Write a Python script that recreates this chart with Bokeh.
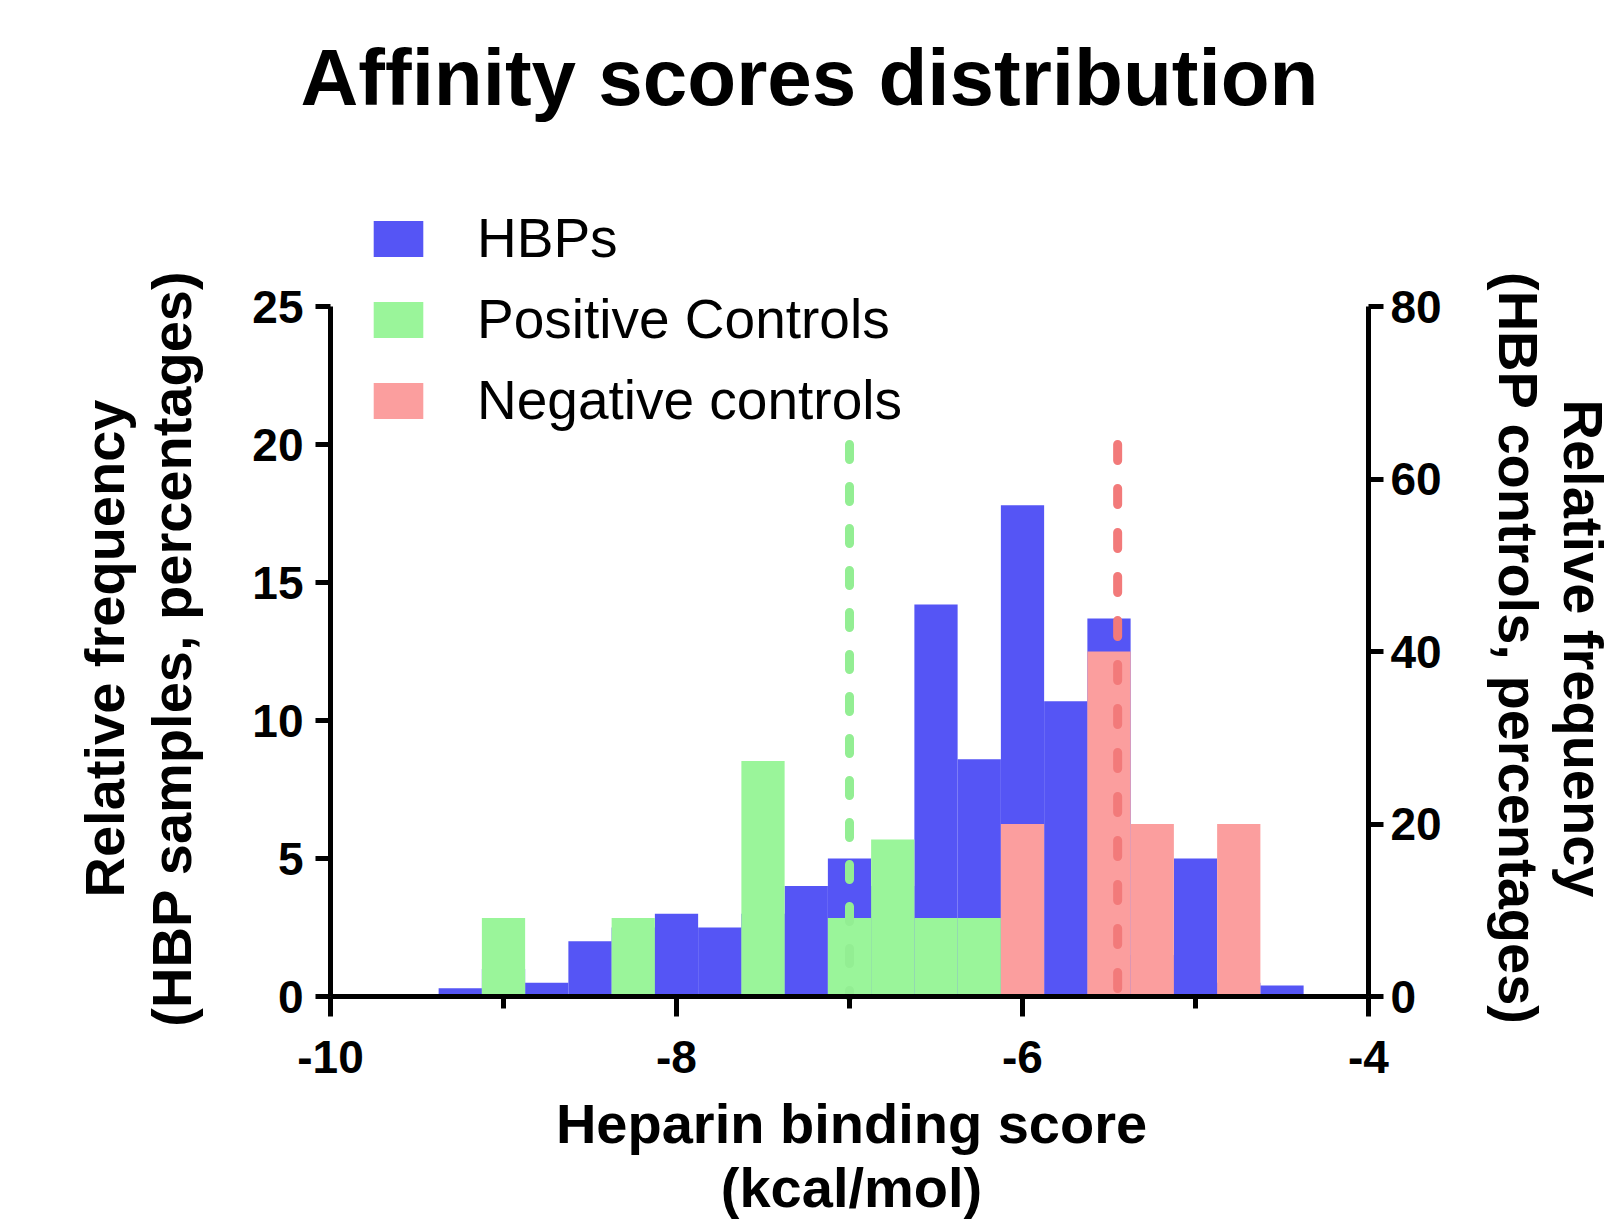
import math
from bokeh.plotting import figure
from bokeh.models import (Range1d, LinearAxis, FixedTicker, Label, Legend,
                          LegendItem, ColumnDataSource)
from bokeh.embed import file_html
from bokeh.resources import INLINE

# ---------------- data ----------------
bin_centers = [-9.25, -9.0, -8.75, -8.5, -8.25, -8.0, -7.75, -7.5, -7.25, -7.0,
               -6.75, -6.5, -6.25, -6.0, -5.75, -5.5, -5.25, -5.0, -4.75, -4.5]
bin_width = 0.25
# HBP samples, % (left axis)
hbp_pct = [0.3, 1.0, 0.5, 2.0, 2.5, 3.0, 2.5, 3.0, 4.0, 5.0,
           4.0, 14.2, 8.6, 17.8, 10.7, 13.7, 1.5, 5.0, 0.5, 0.4]
# controls, % (right axis)
pos_ctrl_pct = [0, 9.1, 0, 0, 9.1, 0, 0, 27.3, 0, 9.1,
                18.2, 9.1, 9.1, 0, 0, 0, 0, 0, 0, 0]
neg_ctrl_pct = [0, 0, 0, 0, 0, 0, 0, 0, 0, 0,
                0, 0, 0, 20, 0, 40, 20, 0, 20, 0]
pos_ctrl_mean = -7.0
neg_ctrl_mean = -5.45
mean_line_top = 20.0   # left-axis units

series_names = ["HBPs", "Positive Controls", "Negative controls"]
x_ticks = [-10, -8, -6, -4]
x_tick_labels = ["-10", "-8", "-6", "-4"]
x_minor_ticks = [-9, -7, -5]
left_ticks = [0, 5, 10, 15, 20, 25]
right_ticks = [0, 20, 40, 60, 80]
x_bounds = (-10, -4)
left_bounds = (0, 25)
right_bounds = (0, 80)

title_text = "Affinity scores distribution"
x_title = ["Heparin binding score", "(kcal/mol)"]
left_title = ["Relative frequency", "(HBP samples, percentages)"]
right_title = ["Relative frequency", "(HBP controls, percentages)"]

# ---------------- styles ----------------
C_HBP = "#5555F5"
C_POS = "#9AF59A"
C_NEG = "#FB9E9E"
C_POS_LINE = "#93EE93"
C_NEG_LINE = "#F27A7A"
FONT = "Liberation Sans"

W, H = 1617, 1229
# pixel box of the axes in the page
FL, FR, FT, FB = 330, 1368, 306, 996
XMIN, XMAX = x_bounds
YMIN, YMAX = left_bounds
CTRL_SCALE = right_bounds[1] / left_bounds[1]


def dx(px):
    return XMIN + (px - FL) * (XMAX - XMIN) / (FR - FL)


def dy(py):
    return YMIN + (FB - py) * (YMAX - YMIN) / (FB - FT)


p = figure(width=W, height=H,
           x_range=Range1d(dx(0), dx(W)), y_range=Range1d(dy(H), dy(0)),
           output_backend="svg", toolbar_location=None,
           x_axis_location=None, y_axis_location=None,
           min_border=0, min_border_left=0, min_border_right=0,
           min_border_top=0, min_border_bottom=0,
           background_fill_color="white", border_fill_color="white",
           outline_line_color=None)
p.extra_y_ranges = {"ctrl": Range1d(dy(H) * CTRL_SCALE, dy(0) * CTRL_SCALE)}
p.xgrid.visible = False
p.ygrid.visible = False

src = ColumnDataSource(dict(x=bin_centers, hbp=hbp_pct, pos=pos_ctrl_pct, neg=neg_ctrl_pct))

r_hbp = p.vbar(x="x", top="hbp", width=bin_width, source=src,
               fill_color=C_HBP, line_color=None)
r_pos = p.vbar(x="x", top="pos", width=bin_width, source=src, y_range_name="ctrl",
               fill_color=C_POS, line_color=None)
r_neg = p.vbar(x="x", top="neg", width=bin_width, source=src, y_range_name="ctrl",
               fill_color=C_NEG, line_color=None)

p.line(x=[pos_ctrl_mean, pos_ctrl_mean], y=[mean_line_top, 0], line_color=C_POS_LINE,
       line_width=9, line_dash="15 27", line_cap="round")
p.line(x=[neg_ctrl_mean, neg_ctrl_mean], y=[mean_line_top, 0], line_color=C_NEG_LINE,
       line_width=9, line_dash="16 28", line_cap="round")

# ---------------- axes ----------------
xaxis = LinearAxis(fixed_location=0, bounds=x_bounds,
                   ticker=FixedTicker(ticks=x_ticks, minor_ticks=x_minor_ticks))
xaxis.major_label_overrides = dict(zip(x_ticks, x_tick_labels))
yaxis = LinearAxis(fixed_location=XMIN, bounds=left_bounds,
                   ticker=FixedTicker(ticks=left_ticks))
raxis = LinearAxis(y_range_name="ctrl", fixed_location=XMAX, bounds=right_bounds,
                   ticker=FixedTicker(ticks=right_ticks))
p.add_layout(xaxis, "below")
p.add_layout(yaxis, "left")
p.add_layout(raxis, "right")

for ax in (xaxis, yaxis, raxis):
    ax.axis_line_width = 5
    ax.axis_line_color = "black"
    ax.major_tick_line_width = 5
    ax.major_tick_line_color = "black"
    ax.major_tick_in = 0
    ax.major_tick_out = 15
    ax.minor_tick_line_width = 5
    ax.minor_tick_in = 0
    ax.major_label_text_font = FONT
    ax.major_label_text_font_style = "bold"
    ax.major_label_text_font_size = "46px"
    ax.major_label_text_color = "black"
    ax.major_label_standoff = 12

xaxis.major_tick_out = 20
xaxis.minor_tick_out = 12
xaxis.minor_tick_line_color = "black"
xaxis.major_label_standoff = 24
yaxis.minor_tick_line_color = None
raxis.minor_tick_line_color = None
raxis.major_label_standoff = 7

# ---------------- texts ----------------
def add_label(text, px, py, size, style="bold", angle=0.0, baseline="middle"):
    p.add_layout(Label(x=dx(px), y=dy(py), text=text, text_align="center",
                       text_baseline=baseline, angle=angle, text_font=FONT,
                       text_font_style=style, text_font_size=size, text_color="black"))

add_label(title_text, 809, 77, "80px")
add_label(x_title[0], 851, 1123, "56px")
add_label(x_title[1], 851, 1187, "56px")
add_label(left_title[0], 104, 648, "56px", angle=math.pi / 2)
add_label(left_title[1], 171, 648, "56px", angle=math.pi / 2)
add_label(right_title[0], 1583, 648, "56px", angle=-math.pi / 2)
add_label(right_title[1], 1518, 648, "56px", angle=-math.pi / 2)

# ---------------- legend ----------------
legend = Legend(items=[LegendItem(label=series_names[0], renderers=[r_hbp]),
                       LegendItem(label=series_names[1], renderers=[r_pos]),
                       LegendItem(label=series_names[2], renderers=[r_neg])],
                location=(367, H - 432), orientation="vertical",
                glyph_width=62, glyph_height=45, label_standoff=48, spacing=17,
                padding=0, margin=0, border_line_color=None,
                background_fill_alpha=0,
                label_text_font=FONT, label_text_font_size="55px",
                label_text_color="black", label_text_baseline="middle")
p.add_layout(legend)

open("out.html", "w").write(file_html(p, INLINE))
